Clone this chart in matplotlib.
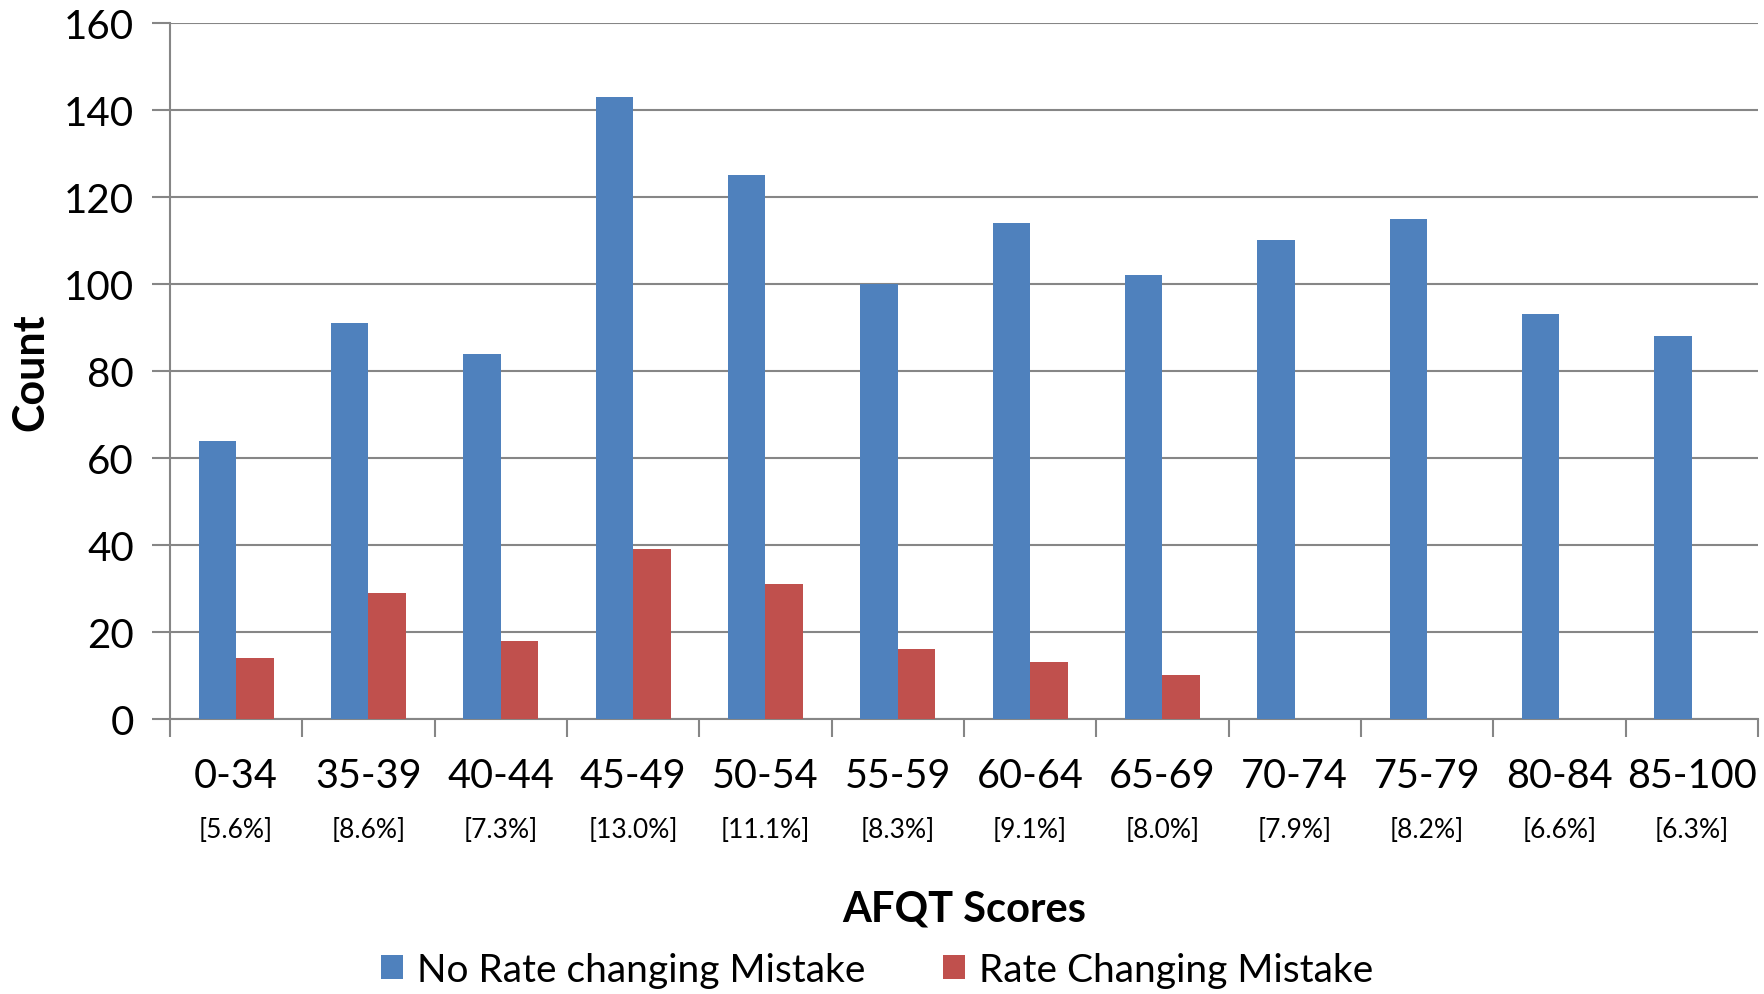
import matplotlib
matplotlib.use("Agg")
import matplotlib.pyplot as plt
import numpy as np
from matplotlib.patches import Patch

categories = ["0-34", "35-39", "40-44", "45-49", "50-54", "55-59",
              "60-64", "65-69", "70-74", "75-79", "80-84", "85-100"]
percent_labels = ["[5.6%]", "[8.6%]", "[7.3%]", "[13.0%]", "[11.1%]", "[8.3%]",
                  "[9.1%]", "[8.0%]", "[7.9%]", "[8.2%]", "[6.6%]", "[6.3%]"]
no_rate_change = [64, 91, 84, 143, 125, 100, 114, 102, 110, 115, 93, 88]
rate_change = [14, 29, 18, 39, 31, 16, 13, 10, 0, 0, 0, 0]
series_names = ["No Rate changing Mistake", "Rate Changing Mistake"]
y_ticks = [0, 20, 40, 60, 80, 100, 120, 140, 160]

BLUE = "#4F81BD"
RED = "#C0504D"
GRID = "#868686"
FONT = "Lato"

plt.rcParams['font.family'] = [FONT, 'DejaVu Sans']

fig = plt.figure(figsize=(17.65, 9.95), dpi=100)
ax = fig.add_axes([0.0963, 0.2764, 0.8997, 0.6995])

x = np.arange(len(categories))
w = 0.284
ax.bar(x - w / 2, no_rate_change, width=w, color=BLUE, zorder=3)
ax.bar(x + w / 2, rate_change, width=w, color=RED, zorder=3)

ax.set_xlim(-0.5, len(categories) - 0.5)
ax.set_ylim(0, 160)
ax.set_yticks(y_ticks)
ax.set_yticklabels([str(v) for v in y_ticks], fontsize=29)
ax.tick_params(axis='y', length=13, width=1.5, color=GRID, pad=13)
ax.set_xticks(np.arange(len(categories) + 1) - 0.5)
ax.set_xticklabels([])
ax.tick_params(axis='x', length=13, width=1.5, color=GRID, direction='out')
ax.yaxis.grid(True, color=GRID, linewidth=1.5, zorder=0)
ax.set_axisbelow(True)
for s in ['top', 'right']:
    ax.spines[s].set_visible(False)
for s in ['left', 'bottom']:
    ax.spines[s].set_color(GRID)
    ax.spines[s].set_linewidth(1.5)

tr = ax.get_xaxis_transform()
for i, (c, p) in enumerate(zip(categories, percent_labels)):
    ax.text(i, -0.0819, c, transform=tr, ha='center', va='center', fontsize=28.5)
    ax.text(i, -0.1595, p, transform=tr, ha='center', va='center', fontsize=19)

ax.text(0.5, -0.273, "AFQT Scores", transform=ax.transAxes, ha='center',
        va='center', fontsize=30, fontweight='bold')
ax.text(-0.0882, 0.5, "Count", transform=ax.transAxes, ha='center',
        va='center', fontsize=31, fontweight='bold', rotation=90)

handles = [Patch(facecolor=BLUE), Patch(facecolor=RED)]
fig.legend(handles, series_names, loc='center', bbox_to_anchor=(0.497, 0.0241),
           ncol=2, frameon=False, fontsize=28, handlelength=0.57, handleheight=0.57,
           handletextpad=0.35, columnspacing=2.0, borderpad=0)

fig.savefig("out.png", dpi=100)
